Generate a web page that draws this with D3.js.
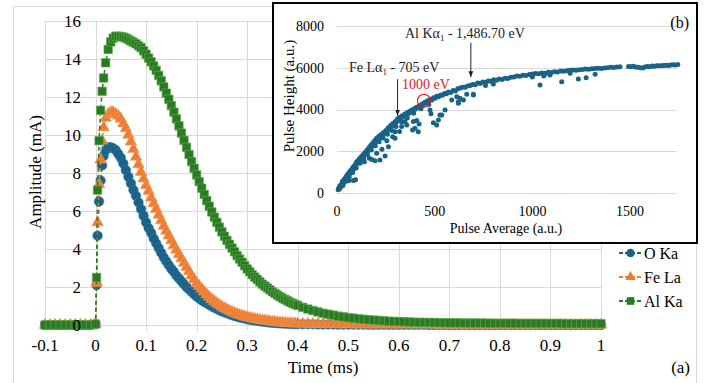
<!DOCTYPE html>
<html>
<head>
<meta charset="utf-8">
<script src="https://cdn.jsdelivr.net/npm/d3@7"></script>
<style>
  html, body { margin: 0; padding: 0; background: #fff; }
  svg { display: block; }
  svg text { font-family: "Liberation Serif", "DejaVu Serif", serif; }
</style>
</head>
<body>
<svg id="chart" width="715" height="383" font-family="Liberation Serif, DejaVu Serif, serif"></svg>
<script>
// ---- Panel (a): pulse amplitude vs time ----
const timeMs = [
  -0.1, -0.09, -0.08, -0.07, -0.06, -0.05, -0.04, -0.03, -0.02, -0.01,
  0,
  0.002, 0.004, 0.007, 0.01, 0.013, 0.016, 0.02, 0.025, 0.03, 0.035,
  0.04, 0.045, 0.05, 0.055, 0.06, 0.065, 0.07, 0.075, 0.08, 0.085,
  0.09, 0.095, 0.1, 0.105, 0.11, 0.115, 0.12, 0.125, 0.13, 0.135,
  0.14, 0.145, 0.15, 0.155, 0.16, 0.165, 0.17, 0.175, 0.18, 0.185,
  0.19, 0.195, 0.2, 0.205, 0.21, 0.215, 0.22, 0.225, 0.23, 0.235,
  0.24, 0.245, 0.25, 0.255, 0.26, 0.265, 0.27, 0.275, 0.28, 0.285,
  0.29, 0.295, 0.3, 0.305, 0.31, 0.315, 0.32, 0.325, 0.33, 0.335,
  0.34, 0.345, 0.35, 0.355, 0.36, 0.365, 0.37, 0.375, 0.38, 0.385,
  0.39, 0.395, 0.4,
  0.41, 0.42, 0.43, 0.44, 0.45, 0.46, 0.47, 0.48, 0.49, 0.5,
  0.51, 0.52, 0.53, 0.54, 0.55, 0.56, 0.57, 0.58, 0.59, 0.6,
  0.61, 0.62, 0.63, 0.64, 0.65, 0.66, 0.67, 0.68, 0.69, 0.7,
  0.71, 0.72, 0.73, 0.74, 0.75, 0.76, 0.77, 0.78, 0.79, 0.8,
  0.81, 0.82, 0.83, 0.84, 0.85, 0.86, 0.87, 0.88, 0.89, 0.9,
  0.91, 0.92, 0.93, 0.94, 0.95, 0.96, 0.97, 0.98, 0.99, 1
];

const oKa = [
  0, 0, 0, 0, 0, 0, 0, 0, 0, 0,
  0.05,
  2.1, 4.7, 6.5, 7.6, 8.4, 8.9, 9.2, 9.35, 9.35, 9.3,
  9.2, 9.0, 8.8, 8.5, 8.15, 7.8, 7.45, 7.1, 6.8, 6.45,
  6.1, 5.75, 5.4, 5.1, 4.85, 4.55, 4.3, 4.05, 3.8, 3.55,
  3.35, 3.15, 2.95, 2.8, 2.6, 2.45, 2.3, 2.15, 2.0, 1.87,
  1.75, 1.62, 1.5, 1.4, 1.3, 1.22, 1.14, 1.06, 0.98, 0.91,
  0.85, 0.78, 0.72, 0.67, 0.62, 0.57, 0.52, 0.48, 0.44, 0.4,
  0.37, 0.34, 0.31, 0.28, 0.26, 0.24, 0.22, 0.2, 0.18, 0.16,
  0.15, 0.13, 0.12, 0.11, 0.1, 0.09, 0.08, 0.08, 0.07, 0.06,
  0.06, 0.05, 0.05,
  0.04, 0.04, 0.04, 0.03, 0.03, 0.03, 0.03, 0.02, 0.02, 0.02,
  0.02, 0.02, 0.02, 0.01, 0.01, 0.01, 0.01, 0.01, 0.01, 0.01,
  0.01, 0.01, 0.01, 0.01, 0.01, 0, 0, 0, 0, 0,
  0, 0, 0, 0, 0, 0, 0, 0, 0, 0,
  0, 0, 0, 0, 0, 0, 0, 0, 0, 0,
  0, 0, 0, 0, 0, 0, 0, 0, 0, 0
];

const feLa = [
  0, 0, 0, 0, 0, 0, 0, 0, 0, 0,
  0.05,
  2.2, 5.4, 7.4, 8.7, 9.7, 10.4, 10.9, 11.1, 11.2, 11.2,
  11.1, 11.0, 10.85, 10.6, 10.35, 10.0, 9.65, 9.25, 8.85, 8.45,
  8.05, 7.7, 7.35, 7.05, 6.7, 6.4, 6.1, 5.8, 5.5, 5.2,
  4.95, 4.7, 4.45, 4.2, 3.95, 3.72, 3.5, 3.27, 3.05, 2.82,
  2.6, 2.4, 2.2, 2.05, 1.9, 1.75, 1.6, 1.48, 1.36, 1.25,
  1.15, 1.06, 0.97, 0.89, 0.82, 0.75, 0.69, 0.63, 0.58, 0.53,
  0.49, 0.45, 0.41, 0.38, 0.35, 0.32, 0.29, 0.27, 0.25, 0.23,
  0.21, 0.19, 0.17, 0.16, 0.14, 0.13, 0.12, 0.11, 0.1, 0.09,
  0.08, 0.08, 0.07,
  0.06, 0.06, 0.05, 0.05, 0.04, 0.04, 0.04, 0.03, 0.03, 0.03,
  0.03, 0.02, 0.02, 0.02, 0.02, 0.02, 0.02, 0.02, 0.02, 0.02,
  0.02, 0.02, 0.02, 0.02, 0.02, 0.02, 0.01, 0.01, 0.01, 0.01,
  0.01, 0.01, 0.01, 0.01, 0.01, 0.01, 0.01, 0.01, 0.01, 0.01,
  0.01, 0.01, 0.01, 0.01, 0.01, 0.01, 0.01, 0.01, 0.01, 0.01,
  0.01, 0.01, 0.01, 0.01, 0.01, 0.01, 0.01, 0.01, 0.01, 0.01
];

const alKa = [
  0, 0, 0, 0, 0, 0, 0, 0, 0, 0,
  0.05,
  2.5, 7.1, 9.7, 11.3, 12.3, 13.0, 13.8, 14.5, 14.9, 15.1,
  15.2, 15.2, 15.18, 15.15, 15.1, 15.03, 14.95, 14.88, 14.8, 14.7,
  14.6, 14.43, 14.25, 14.05, 13.85, 13.63, 13.4, 13.13, 12.85, 12.53,
  12.2, 11.88, 11.55, 11.2, 10.85, 10.48, 10.1, 9.72, 9.35, 8.97,
  8.6, 8.25, 7.9, 7.55, 7.2, 6.87, 6.55, 6.25, 5.95, 5.67,
  5.4, 5.15, 4.9, 4.67, 4.45, 4.25, 4.05, 3.85, 3.65, 3.47,
  3.3, 3.12, 2.95, 2.8, 2.65, 2.52, 2.4, 2.27, 2.15, 2.05,
  1.95, 1.85, 1.75, 1.66, 1.57, 1.49, 1.41, 1.34, 1.27, 1.2,
  1.14, 1.08, 1.03,
  0.93, 0.84, 0.76, 0.69, 0.62, 0.57, 0.52, 0.47, 0.43, 0.39,
  0.36, 0.33, 0.3, 0.28, 0.26, 0.24, 0.22, 0.2, 0.19, 0.18,
  0.17, 0.16, 0.15, 0.14, 0.14, 0.13, 0.13, 0.12, 0.12, 0.11,
  0.11, 0.11, 0.1, 0.1, 0.1, 0.1, 0.1, 0.09, 0.09, 0.09,
  0.09, 0.09, 0.09, 0.08, 0.08, 0.08, 0.08, 0.08, 0.08, 0.08,
  0.08, 0.08, 0.07, 0.07, 0.07, 0.07, 0.07, 0.07, 0.07, 0.07
];

const timeTicks = [-0.1, 0, 0.1, 0.2, 0.3, 0.4, 0.5, 0.6, 0.7, 0.8, 0.9, 1];
const ampTicks = [0, 2, 4, 6, 8, 10, 12, 14, 16];

// ---- Panel (b): pulse height vs pulse average ----
const scatterPoints = [
  [6,150],[9,240],[12,190],[14,330],[17,260],[20,400],[23,330],[26,470],[28,560],[31,430],
  [34,600],[37,520],[40,700],[43,620],[46,780],[49,700],[52,860],[55,790],[58,940],[61,860],
  [64,1010],[67,930],[70,1080],[73,1000],[76,1150],[79,1080],[82,1230],[85,1150],[88,1290],[91,1220],
  [94,1360],[97,1300],[100,1480],[104,1420],[108,1560],[112,1500],[116,1650],[120,1600],[124,1740],[128,1680],
  [133,1830],[138,1780],[143,1940],[148,1890],[153,2050],[158,2010],[163,2170],[168,2110],[173,2290],[178,2240],
  [183,2400],[188,2340],[193,2520],[198,2460],[203,2620],[208,2580],[214,2720],[220,2660],[226,2800],[232,2760],
  [238,2900],[244,2860],[250,3000],[256,2960],[262,3120],[268,3080],[274,3230],[280,3190],[286,3330],[292,3300],
  [298,3430],[304,3400],[310,3560],[316,3520],[322,3630],[328,3590],[334,3700],[340,3660],[346,3770],[352,3730],
  [358,3840],[364,3800],[370,3900],[376,3870],[382,3970],[388,3940],[394,4040],[400,4010],[407,4110],[414,4080],
  [421,4180],[428,4150],[435,4260],[442,4230],[449,4350],[456,4320],[463,4420],[470,4390],[478,4490],[486,4460],
  [494,4560],[502,4540],[510,4630],[520,4610],[530,4700],[540,4680],[550,4770],[560,4750],[570,4840],[582,4820],
  [594,4910],[606,4890],[618,5000],[630,5030],[642,5070],[655,5060],[668,5120],[681,5150],[694,5200],[707,5190],
  [720,5270],[733,5250],[746,5320],[760,5300],[774,5370],[788,5350],[802,5420],[816,5400],[830,5460],[845,5440],
  [860,5500],[875,5480],[890,5540],[905,5560],[920,5600],[936,5590],[952,5640],[968,5630],[984,5680],[1000,5700],
  [1016,5720],[1032,5710],[1048,5750],[1064,5740],[1080,5780],[1096,5770],[1112,5810],[1128,5800],[1144,5840],[1160,5830],
  [1176,5860],[1192,5880],[1208,5890],[1224,5880],[1240,5910],[1256,5920],[1272,5940],[1288,5930],[1304,5950],[1320,5960],
  [1336,5980],[1352,5970],[1368,5990],[1384,6000],[1400,6020],[1416,6010],[1432,6040],[1448,6050],[1492,6060],[1504,6050],
  [1516,6070],[1528,6040],[1540,6020],[1552,6000],[1564,5990],[1576,6030],[1588,6060],[1600,6050],[1612,6080],[1624,6070],
  [1636,6090],[1648,6100],[1660,6090],[1672,6110],[1684,6120],[1696,6110],[1708,6130],[1720,6140],[1732,6130],[1744,6150],
  // lower edge of the wide band at small averages
  [30,360],[45,560],[62,760],[80,980],[98,1200],[118,1430],[136,1640],[156,1840],[176,2060],[196,2260],
  [216,2460],[236,2640],[258,2820],[280,3000],[302,3180],[330,3400],[360,3600],[392,3820],[430,4040],[470,4240],
  // points falling below the main trend
  [60,590],[84,600],[95,640],[140,1500],[165,1660],[178,1600],[195,1550],[203,1900],[220,1580],[246,1770],
  [263,2220],[230,2100],[255,2500],[285,2700],[297,2620],[297,2940],[320,2950],[331,3180],[348,3420],[357,3260],
  [387,3020],[391,3420],[399,3100],[408,3470],[416,2940],[420,3300],[476,3975],[481,3800],[493,3370],[510,3260],
  [519,3500],[527,3735],[536,3740],[553,3975],[587,4455],[613,4615],[621,4295],[621,4375],[630,4540],[647,4455],
  [664,4730],[698,4730],[698,4695],[800,5220],[760,5150],[1039,5175],[1150,5330],[1235,5460],[1275,5525],[1321,5685],
  [997,5650],[1193,5735],[1058,5600],[1090,5650],[1000,5560],[1065,5700]
];

const avgTicks = [0, 500, 1000, 1500];
const heightTicks = [0, 2000, 4000, 6000, 8000];

// line annotations in panel (b): label, arrow anchor in data units
const lineMarks = [
  { name: "Al K", sub: "1", rest: " - 1,486.70 eV", textX: 405, textY: 38, avg: 685, fromH: 7200, toH: 5550 },
  { name: "Fe L", sub: "1", rest: " - 705 eV", textX: 349, textY: 72, avg: 310, fromH: 5450, toH: 3700 }
];
const markedEnergy = { label: "1000 eV", avg: 445, height: 4420 };

// ---- colours ----
const blue = "#1a6288";
const orange = "#ed7d31";
const green = "#2a7a25";
const grid = "#d9d9d9";

const svg = d3.select("#chart");

// chart area border
svg.append("rect")
  .attr("x", 13.5).attr("y", 6.5)
  .attr("width", 683).attr("height", 400)
  .attr("fill", "none").attr("stroke", grid);

const x = d3.scaleLinear().domain([-0.1, 1]).range([45, 601]);
const y = d3.scaleLinear().domain([0, 16]).range([325, 21]);

// Gridlines
const gridG = svg.append("g");
gridG.selectAll("line.h")
  .data(ampTicks)
  .join("line")
  .attr("class", "h")
  .attr("x1", x(-0.1)).attr("x2", x(1))
  .attr("y1", (d) => Math.round(y(d)) + 0.5).attr("y2", (d) => Math.round(y(d)) + 0.5)
  .attr("stroke", grid).attr("stroke-width", 1);
gridG.selectAll("line.v")
  .data(timeTicks)
  .join("line")
  .attr("class", "v")
  .attr("x1", (d) => Math.round(x(d)) + 0.5).attr("x2", (d) => Math.round(x(d)) + 0.5)
  .attr("y1", y(16)).attr("y2", y(0) + 5)
  .attr("stroke", grid).attr("stroke-width", 1);

// Series
const series = [
  { name: "O Ka", values: oKa, color: blue, stroke: "#2c7aa3", symbol: d3.symbolCircle, size: 72 },
  { name: "Fe La", values: feLa, color: orange, stroke: "#f39a5c", symbol: d3.symbolTriangle, size: 58 },
  { name: "Al Ka", values: alKa, color: green, stroke: "#62b04c", symbol: d3.symbolSquare, size: 72 }
];

const line = d3.line().x((d) => x(d[0])).y((d) => y(d[1]));

series.forEach((s) => {
  const pts = timeMs.map((t, i) => [t, s.values[i]]);
  const g = svg.append("g");
  g.append("path")
    .datum(pts)
    .attr("d", line)
    .attr("fill", "none")
    .attr("stroke", s.color)
    .attr("stroke-width", 1.5)
    .attr("stroke-dasharray", "4,3");
  g.selectAll("path.m")
    .data(pts)
    .join("path")
    .attr("class", "m")
    .attr("d", d3.symbol().type(s.symbol).size(s.size))
    .attr("transform", (d) => `translate(${x(d[0])},${y(d[1])})`)
    .attr("fill", s.color)
    .attr("stroke", s.stroke)
    .attr("stroke-width", 0.6);
});

// Axis labels
svg.append("g").selectAll("text")
  .data(ampTicks)
  .join("text")
  .attr("x", 81)
  .attr("y", (d) => y(d))
  .attr("dy", "0.35em")
  .attr("text-anchor", "end")
  .attr("font-size", 17)
  .attr("fill", "#000")
  .text((d) => d);

svg.append("g").selectAll("text")
  .data(timeTicks)
  .join("text")
  .attr("x", (d) => x(d))
  .attr("y", 351)
  .attr("text-anchor", "middle")
  .attr("font-size", 17)
  .attr("fill", "#000")
  .text((d) => d);

svg.append("text")
  .attr("transform", "translate(41,172) rotate(-90)")
  .attr("text-anchor", "middle")
  .attr("font-size", 17)
  .text("Amplitude (mA)");

svg.append("text")
  .attr("x", 323).attr("y", 373)
  .attr("text-anchor", "middle")
  .attr("font-size", 17)
  .text("Time (ms)");

svg.append("text")
  .attr("x", 690).attr("y", 373)
  .attr("text-anchor", "end")
  .attr("font-size", 17)
  .text("(a)");

// Legend
const legend = svg.append("g");
series.forEach((s, i) => {
  const ly = 253 + i * 24;
  legend.append("line")
    .attr("x1", 619).attr("x2", 642)
    .attr("y1", ly).attr("y2", ly)
    .attr("stroke", s.color).attr("stroke-width", 2)
    .attr("stroke-dasharray", "4,2");
  legend.append("path")
    .attr("d", d3.symbol().type(s.symbol).size(s.size * 0.8))
    .attr("transform", `translate(630.5,${ly})`)
    .attr("fill", s.color);
  legend.append("text")
    .attr("x", 644).attr("y", ly)
    .attr("dy", "0.35em")
    .attr("font-size", 16)
    .text(s.name);
});

// ---- Inset panel (b) ----
const inset = svg.append("g");
inset.append("rect")
  .attr("x", 273).attr("y", 3)
  .attr("width", 424).attr("height", 240)
  .attr("fill", "#fff")
  .attr("stroke", "#000")
  .attr("stroke-width", 2);

const xb = d3.scaleLinear().domain([0, 1740]).range([337, 677]);
const yb = d3.scaleLinear().domain([0, 8000]).range([193, 26]);

inset.selectAll("line.grid")
  .data(heightTicks)
  .join("line")
  .attr("class", "grid")
  .attr("x1", xb(0)).attr("x2", xb(1740))
  .attr("y1", (d) => Math.round(yb(d)) + 0.5).attr("y2", (d) => Math.round(yb(d)) + 0.5)
  .attr("stroke", grid);

inset.selectAll("text.yt")
  .data(heightTicks)
  .join("text")
  .attr("class", "yt")
  .attr("x", 324)
  .attr("y", (d) => yb(d))
  .attr("dy", "0.35em")
  .attr("text-anchor", "end")
  .attr("font-size", 14)
  .text((d) => d);

inset.selectAll("text.xt")
  .data(avgTicks)
  .join("text")
  .attr("class", "xt")
  .attr("x", (d) => xb(d))
  .attr("y", 216)
  .attr("text-anchor", "middle")
  .attr("font-size", 14)
  .text((d) => d);

inset.append("text")
  .attr("x", 506).attr("y", 233)
  .attr("text-anchor", "middle")
  .attr("font-size", 14)
  .text("Pulse Average (a.u.)");

inset.append("text")
  .attr("transform", "translate(294,96) rotate(-90)")
  .attr("text-anchor", "middle")
  .attr("font-size", 15)
  .text("Pulse Height (a.u.)");

inset.append("text")
  .attr("x", 689).attr("y", 28)
  .attr("text-anchor", "end")
  .attr("font-size", 16)
  .text("(b)");

inset.append("g").selectAll("circle")
  .data(scatterPoints)
  .join("circle")
  .attr("cx", (d) => xb(d[0]))
  .attr("cy", (d) => yb(d[1]))
  .attr("r", 2.5)
  .attr("fill", blue);

// arrows + labels
const defs = svg.append("defs");
defs.append("marker")
  .attr("id", "arrow")
  .attr("viewBox", "0 -5 10 10")
  .attr("refX", 10).attr("refY", 0)
  .attr("markerWidth", 6).attr("markerHeight", 6)
  .attr("markerUnits", "userSpaceOnUse")
  .attr("orient", "auto")
  .append("path")
  .attr("d", "M0,-4L10,0L0,4Z")
  .attr("fill", "#222");

lineMarks.forEach((m) => {
  inset.append("line")
    .attr("x1", xb(m.avg)).attr("x2", xb(m.avg))
    .attr("y1", yb(m.fromH)).attr("y2", yb(m.toH))
    .attr("stroke", "#222").attr("stroke-width", 1)
    .attr("marker-end", "url(#arrow)");
  const t = inset.append("text")
    .attr("x", m.textX).attr("y", m.textY)
    .attr("font-size", 14)
    .attr("fill", "#222");
  t.append("tspan").text(m.name + "\u03B1");
  t.append("tspan").attr("font-size", 9).attr("dy", 3).text(m.sub);
  t.append("tspan").attr("dy", -3).text(m.rest);
});

inset.append("circle")
  .attr("cx", xb(markedEnergy.avg))
  .attr("cy", yb(markedEnergy.height))
  .attr("r", 6.5)
  .attr("fill", "none")
  .attr("stroke", "#e8141b")
  .attr("stroke-width", 1.2);
inset.append("text")
  .attr("x", 402).attr("y", 89)
  .attr("font-size", 14)
  .attr("fill", "#e8141b")
  .text(markedEnergy.label);
</script>
</body>
</html>
